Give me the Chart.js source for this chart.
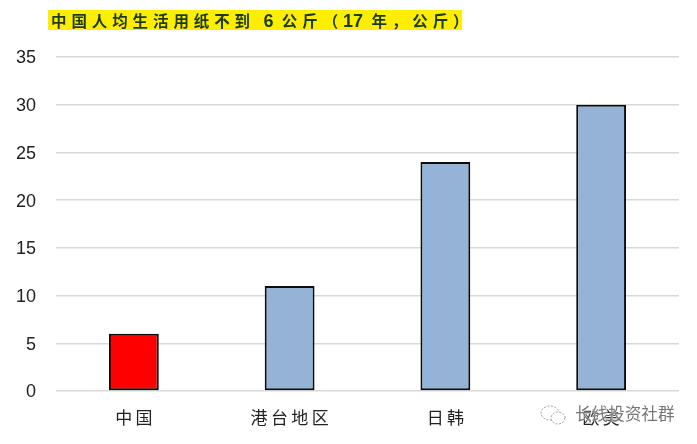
<!DOCTYPE html>
<html>
<head>
<meta charset="utf-8">
<script src="https://cdn.jsdelivr.net/npm/chart.js@4"></script>
<style>
    html, body { margin: 0; padding: 0; background: #fff; }
    #wrap { position: relative; width: 697px; height: 444px; overflow: hidden; }
    #title {
        position: absolute; left: 48px; top: 10px; width: 411px; height: 20px; padding-left: 3px;
        background: #ffee00; color: #1c3a1c; white-space: nowrap; letter-spacing: 4.9px;
        font: bold 15.5px/20px "Noto Sans CJK SC", "Liberation Sans", sans-serif;
    }
    #title span { font: bold 18px/20px "Liberation Sans", sans-serif; letter-spacing: 0; }
    #mark {
        position: absolute; left: 575px; top: 402px; white-space: nowrap; color: #777;
        font: 16.6px/22px "Noto Sans CJK SC", sans-serif;
        text-shadow: 0 0 1px #fff, 0 0 2px #fff;
    }
    #icon { position: absolute; left: 539px; top: 403px; }
</style>
</head>
<body>
<div id="wrap">
    <canvas id="chart" width="697" height="444"></canvas>
    <div id="title">中国人均生活用纸不到 <span>6</span> 公斤（<span>17</span> 年，公斤）</div>
    <svg id="icon" width="30" height="24" fill="none" stroke="#999" stroke-width="1" stroke-dasharray="2 1.5">
        <ellipse cx="11" cy="10" rx="9" ry="7"></ellipse>
        <ellipse cx="19" cy="15" rx="7" ry="6" fill="#fff"></ellipse>
    </svg>
    <div id="mark">长线投资社群</div>
</div>
<script>
const categories = ["中国", "港台地区", "日韩", "欧美"];
const values = [6, 11, 24, 30];
const barColors = ["#ff0000", "#95b3d7", "#95b3d7", "#95b3d7"];
const maxY = 35;
const stepY = 5;

new Chart(document.getElementById("chart"), {
    type: "bar",
    data: {
        labels: categories,
        datasets: [{
            data: values,
            backgroundColor: barColors,
            borderColor: "#0d0d0d",
            borderWidth: 2,
            borderSkipped: false,
            barPercentage: 0.32,
            categoryPercentage: 1
        }]
    },
    options: {
        responsive: false,
        animation: false,
        layout: { padding: { top: 57, right: 18, left: 0, bottom: 0 } },
        plugins: { legend: { display: false }, tooltip: { enabled: false } },
        scales: {
            x: {
                afterFit: scale => { scale.height = 53; },
                grid: { display: false },
                border: { display: false },
                ticks: {
                    padding: 8,
                    maxRotation: 0,
                    color: "#222",
                    font: { family: "'Noto Sans CJK SC'", size: 17 },
                    // the original labels are spaced out a little
                    callback: function (value) {
                        return this.getLabelForValue(value).split("").join("\u2009");
                    }
                }
            },
            y: {
                min: 0,
                max: maxY,
                afterFit: scale => { scale.width = 56; },
                grid: { color: "#d9d9d9", lineWidth: 1.5, drawTicks: false },
                border: { display: false },
                ticks: {
                    stepSize: stepY,
                    padding: 20,
                    labelOffset: 1.5,
                    color: "#222",
                    font: { family: "'Liberation Sans'", size: 18 }
                }
            }
        }
    }
});
</script>
</body>
</html>
